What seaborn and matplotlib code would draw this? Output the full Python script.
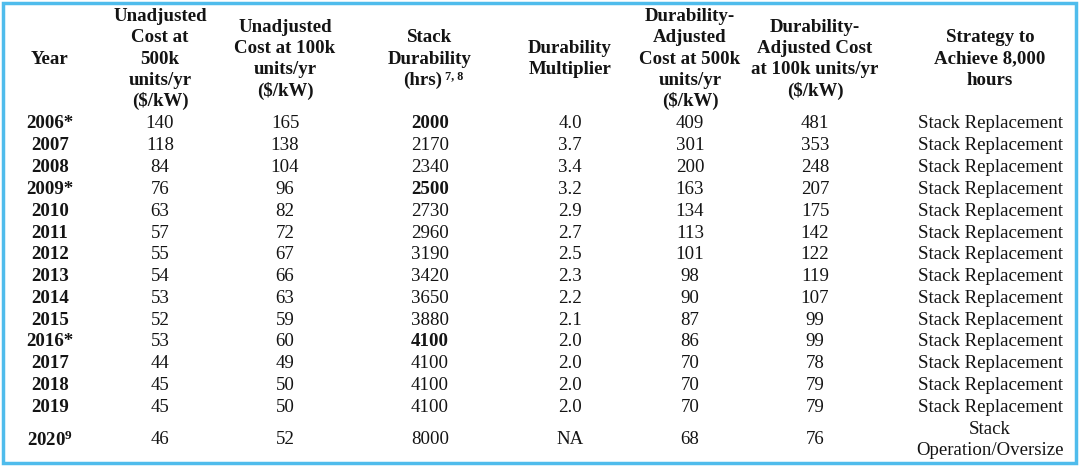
import matplotlib
matplotlib.use("Agg")
import matplotlib.pyplot as plt
import seaborn as sns
import pandas as pd
from matplotlib.patches import Rectangle

# ---- data ----
years = ["2006*", "2007", "2008", "2009*", "2010", "2011", "2012", "2013", "2014",
         "2015", "2016*", "2017", "2018", "2019", "2020$^{9}$"]
unadj_500 = [140, 118, 84, 76, 63, 57, 55, 54, 53, 52, 53, 44, 45, 45, 46]
unadj_100 = [165, 138, 104, 96, 82, 72, 67, 66, 63, 59, 60, 49, 50, 50, 52]
durability = [2000, 2170, 2340, 2500, 2730, 2960, 3190, 3420, 3650, 3880, 4100, 4100, 4100, 4100, 8000]
multiplier = ["4.0", "3.7", "3.4", "3.2", "2.9", "2.7", "2.5", "2.3", "2.2", "2.1",
              "2.0", "2.0", "2.0", "2.0", "NA"]
adj_500 = [409, 301, 200, 163, 134, 113, 101, 98, 90, 87, 86, 70, 70, 70, 68]
adj_100 = [481, 353, 248, 207, 175, 142, 122, 119, 107, 99, 99, 78, 79, 79, 76]
strategy = ["Stack Replacement"] * 14 + ["Stack\nOperation/Oversize"]
bold_durability_rows = [0, 3, 10]

headers = [
    "Year",
    "Unadjusted\nCost at\n500k\nunits/yr\n($/kW)",
    "Unadjusted\nCost at 100k\nunits/yr\n($/kW)",
    "Stack\nDurability\n(hrs)",
    "Durability\nMultiplier",
    "Durability-\nAdjusted\nCost at 500k\nunits/yr\n($/kW)",
    "Durability-\nAdjusted Cost\nat 100k units/yr\n($/kW)",
    "Strategy to\nAchieve 8,000\nhours",
]
header_notes = {3: "7, 8"}

df = pd.DataFrame({
    "Year": years,
    "U500": unadj_500,
    "U100": unadj_100,
    "Dur": durability,
    "Mult": multiplier,
    "A500": adj_500,
    "A100": adj_100,
    "Strat": strategy,
})

# ---- style ----
sns.set_theme(style="white")
plt.rcParams["font.family"] = ["Liberation Serif", "DejaVu Serif"]
plt.rcParams["mathtext.fontset"] = "custom"
plt.rcParams["mathtext.rm"] = "Liberation Serif"
plt.rcParams["mathtext.bf"] = "Liberation Serif:bold"
plt.rcParams["mathtext.it"] = "Liberation Serif:italic"
plt.rcParams["mathtext.default"] = "regular"

W, H = 1080, 467
fig = plt.figure(figsize=(W / 100, H / 100), dpi=100)
ax = fig.add_axes([0, 0, 1, 1])
ax.set_xlim(0, W)
ax.set_ylim(H, 0)
ax.axis("off")

col_x = [50, 160, 285, 430, 570, 690, 815, 990]
header_y = 59
line_pitch = 21.2
row_y0 = 124
row_step = 21.8
last_row_y = 440
fs = 13.6
txt_color = "#141414"

# border
ax.add_patch(Rectangle((3, 3), W - 7, H - 7, fill=False, edgecolor="#4fbcec", linewidth=2.5))

# headers, line by line
for j, (x, h) in enumerate(zip(col_x, headers)):
    lines = h.split("\n")
    n = len(lines)
    for k, line in enumerate(lines):
        y = header_y + (k - (n - 1) / 2) * line_pitch
        has_note = (k == n - 1 and j in header_notes)
        t = ax.text(x - (7 if has_note else 0), y, line, ha="center", va="center",
                    fontsize=fs, fontweight="bold", color=txt_color)
        if has_note:
            ax.annotate(header_notes[j], xy=(1, 0.74), xycoords=t,
                        xytext=(1.5, 0), textcoords="offset points",
                        ha="left", va="center", fontsize=fs * 0.64,
                        fontweight="bold", color=txt_color)

cols = list(df.columns)
for i, row in df.iterrows():
    y = row_y0 + i * row_step if i < len(df) - 1 else last_row_y
    for j, c in enumerate(cols):
        val = row[c]
        weight = "normal"
        if c == "Year":
            weight = "bold"
        if c == "Dur" and i in bold_durability_rows:
            weight = "bold"
        ax.text(col_x[j], y, str(val), ha="center", va="center", multialignment="center",
                fontsize=fs, fontweight=weight, color=txt_color, linespacing=1.28)

fig.savefig("out.png", dpi=100, facecolor="white")
